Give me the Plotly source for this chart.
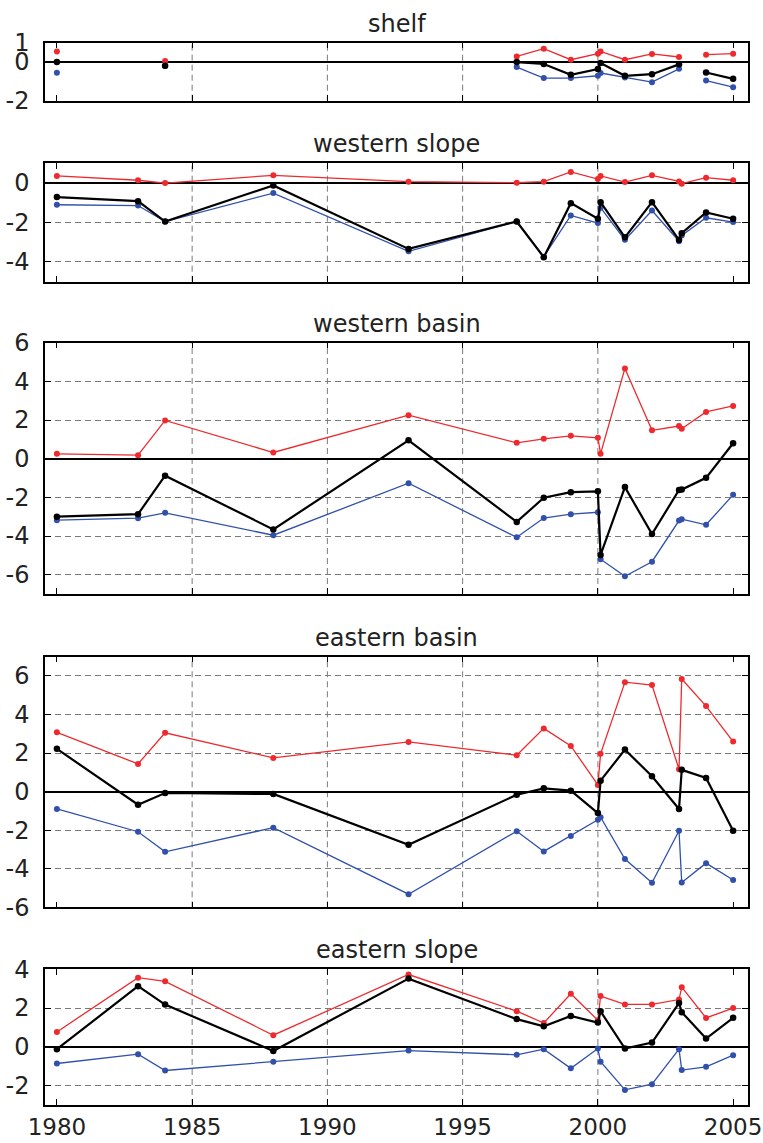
import plotly.graph_objects as go

years = [1980, 1983, 1984, 1988, 1993, 1997, 1998, 1999, 2000.0, 2000.1,
         2001, 2002, 2003.0, 2003.1, 2004, 2005]

titles = ["shelf", "western slope", "western basin", "eastern basin", "eastern slope"]

shelf_red = [0.55, None, 0.05, None, None, 0.29, 0.69, 0.12, 0.43, 0.55, 0.12, 0.42, 0.26, None, 0.38, 0.43]
shelf_black = [0.0, None, -0.19, None, None, 0.0, -0.1, -0.66, -0.36, -0.05, -0.71, -0.63, -0.12, None, -0.54, -0.87]
shelf_blue = [-0.56, None, -0.2, None, None, -0.26, -0.83, -0.83, -0.71, -0.57, -0.8, -1.04, -0.35, None, -0.96, -1.3]

wslope_red = [0.36, 0.14, 0.0, 0.39, 0.07, 0.02, 0.07, 0.56, 0.2, 0.36, 0.05, 0.39, 0.08, -0.03, 0.27, 0.14]
wslope_black = [-0.71, -0.92, -1.95, -0.12, -3.34, -1.95, -3.76, -1.02, -1.81, -0.97, -2.75, -0.97, -2.88, -2.54, -1.49, -1.81]
wslope_blue = [-1.1, -1.14, -1.95, -0.51, -3.46, -1.95, -3.73, -1.64, -2.03, -1.25, -2.88, -1.39, -2.95, -2.66, -1.76, -1.98]

wbasin_red = [0.25, 0.18, 1.98, 0.32, 2.25, 0.82, 1.03, 1.18, 1.08, 0.26, 4.67, 1.47, 1.69, 1.55, 2.42, 2.73]
wbasin_black = [-3.0, -2.87, -0.88, -3.66, 0.95, -3.27, -2.02, -1.73, -1.69, -4.98, -1.47, -3.9, -1.62, -1.6, -0.99, 0.8]
wbasin_blue = [-3.18, -3.08, -2.8, -3.96, -1.27, -4.07, -3.07, -2.87, -2.77, -5.2, -6.08, -5.33, -3.2, -3.13, -3.42, -1.87]

ebasin_red = [3.08, 1.44, 3.05, 1.75, 2.58, 1.89, 3.28, 2.37, 0.35, 1.96, 5.68, 5.53, 1.16, 5.84, 4.44, 2.6]
ebasin_black = [2.22, -0.68, -0.07, -0.12, -2.76, -0.16, 0.17, 0.05, -1.11, 0.57, 2.18, 0.8, -0.9, 1.13, 0.71, -2.03]
ebasin_blue = [-0.9, -2.08, -3.12, -1.87, -5.32, -2.05, -3.1, -2.3, -1.46, -1.33, -3.5, -4.73, -2.03, -4.71, -3.71, -4.58]

eslope_red = [0.77, 3.57, 3.38, 0.6, 3.73, 1.84, 1.23, 2.74, 1.37, 2.62, 2.19, 2.19, 2.44, 3.08, 1.49, 2.0]
eslope_black = [-0.12, 3.13, 2.18, -0.21, 3.52, 1.43, 1.06, 1.59, 1.25, 1.83, -0.09, 0.22, 2.26, 1.79, 0.43, 1.5]
eslope_blue = [-0.86, -0.38, -1.22, -0.77, -0.19, -0.41, -0.12, -1.11, -0.09, -0.77, -2.22, -1.93, -0.12, -1.2, -1.03, -0.43]

panels = [
    (shelf_red, shelf_blue, shelf_black),
    (wslope_red, wslope_blue, wslope_black),
    (wbasin_red, wbasin_blue, wbasin_black),
    (ebasin_red, ebasin_blue, ebasin_black),
    (eslope_red, eslope_blue, eslope_black),
]

y_ranges = [[-2, 1], [-5, 1], [-7, 6], [-6, 7], [-3, 4]]
y_ticks = [[-2, 0, 1], [-4, -2, 0], [-6, -4, -2, 0, 2, 4, 6],
           [-6, -4, -2, 0, 2, 4, 6], [-2, 0, 2, 4]]
x_ticks = [1980, 1985, 1990, 1995, 2000, 2005]
x_grid = [1985, 1990, 1995, 2000]
x_range = [1979.56, 2005.55]

H = 1143
px_tops = [42.7, 163.3, 342.7, 656.7, 969.3]
px_bots = [100.7, 281.7, 594.0, 907.3, 1105.0]

RED = "#ee2a2e"
BLUE = "#3050ab"
BLACK = "#000000"
GRID = "#7a7a7a"
FONT = "DejaVu Sans"
TXT = "#222222"

fig = go.Figure()
layout = dict(
    width=763, height=H,
    margin=dict(l=45, r=15, t=0, b=0, pad=0, autoexpand=False),
    paper_bgcolor="white", plot_bgcolor="white",
    showlegend=False,
    font=dict(family=FONT, size=24, color=TXT),
)
shapes = []
annotations = []

for i, (red, blue, black) in enumerate(panels):
    n = i + 1
    xa = "x" if n == 1 else f"x{n}"
    ya = "y" if n == 1 else f"y{n}"
    for vals, col, w, ms in ((red, RED, 1.3, 6), (blue, BLUE, 1.3, 6), (black, BLACK, 2.2, 6.5)):
        fig.add_trace(go.Scatter(
            x=years, y=vals, mode="lines+markers",
            line=dict(color=col, width=w),
            marker=dict(color=col, size=ms),
            connectgaps=False, xaxis=xa, yaxis=ya, hoverinfo="skip",
        ))
    dom = [1 - px_bots[i] / H, 1 - px_tops[i] / H]
    layout[f"xaxis{n}"] = dict(
        domain=[0, 1], range=x_range, anchor=ya, automargin=False,
        tickmode="array", tickvals=x_ticks, ticktext=[str(v) for v in x_ticks],
        ticks="inside", ticklen=6, tickwidth=1.2, tickcolor="black",
        showline=True, linecolor="black", linewidth=1.5, mirror="ticks",
        showgrid=False, zeroline=False,
        showticklabels=(n == 5), ticklabelstandoff=1, ticklabeloverflow="allow",
        tickfont=dict(family=FONT, size=23, color=TXT),
    )
    layout[f"yaxis{n}"] = dict(
        domain=dom, range=y_ranges[i], anchor=xa, automargin=False,
        tickmode="array", tickvals=y_ticks[i],
        ticktext=[str(v) for v in y_ticks[i]],
        ticks="inside", ticklen=6, tickwidth=1.2, tickcolor="black",
        showline=True, linecolor="black", linewidth=1.5, mirror="ticks",
        showgrid=True, gridcolor=GRID, gridwidth=1, griddash="6px,4px",
        zeroline=True, zerolinecolor="black", zerolinewidth=1.8,
        ticklabelstandoff=9, ticklabeloverflow="allow",
        tickfont=dict(family=FONT, size=24, color=TXT),
    )
    for gx in x_grid:
        shapes.append(dict(
            type="line", xref=xa, yref=f"{ya} domain",
            x0=gx, x1=gx, y0=0, y1=1, layer="below",
            line=dict(color=GRID, width=1, dash="6px,4px"),
        ))
    annotations.append(dict(
        text=titles[i], xref="paper", yref="paper",
        x=0.5, y=dom[1], xanchor="center", yanchor="bottom",
        yshift=3, showarrow=False,
        font=dict(family=FONT, size=24, color=TXT),
    ))

layout["shapes"] = shapes
layout["annotations"] = annotations
fig.update_layout(**layout)
fig.write_html("out.html")
